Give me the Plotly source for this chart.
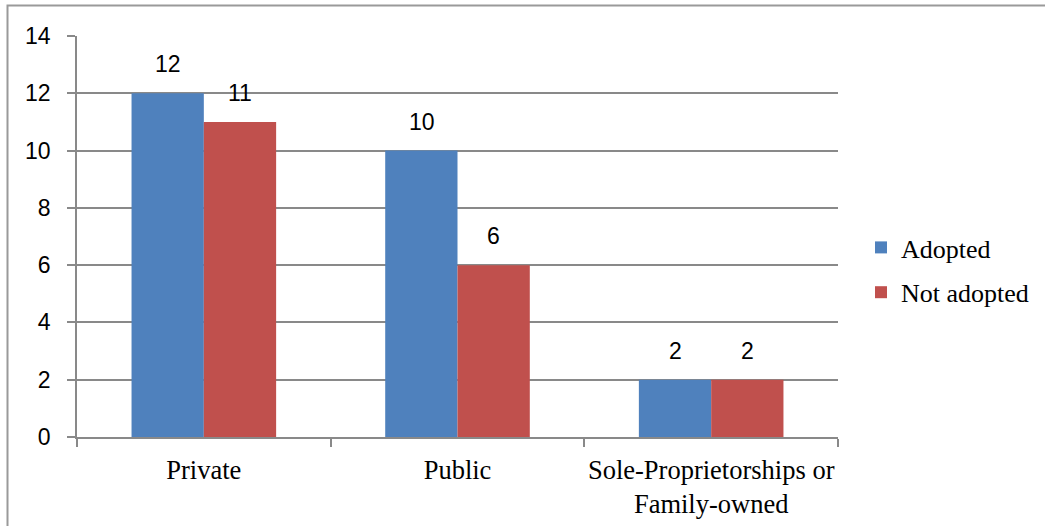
import plotly.graph_objects as go

categories = ["Private", "Public", "Sole-Proprietorships or<br>Family-owned"]
adopted = [12, 10, 2]
not_adopted = [11, 6, 2]
y_ticks = [0, 2, 4, 6, 8, 10, 12, 14]

BLUE = "#4F81BD"
RED = "#C0504D"
GRID = "#898989"
SANS = "Liberation Sans"
SERIF = "Liberation Serif"

fig = go.Figure()
fig.add_trace(go.Bar(x=categories, y=adopted, name="Adopted", marker_color=BLUE,
                     marker_line_width=0, legendgroup="a"))
fig.add_trace(go.Bar(x=categories, y=not_adopted, name="Not adopted", marker_color=RED,
                     marker_line_width=0, legendgroup="b"))

annotations = []
for series, shift in ((adopted, -36), (not_adopted, 36)):
    for c, v in zip(categories, series):
        annotations.append(dict(x=c, y=v, xref="x", yref="y", text=str(v), showarrow=False,
                                xshift=shift, yanchor="bottom", yshift=14,
                                font=dict(family=SANS, size=23, color="black")))

# body margin is removed in the page, so figure coords == reference coords
W, H = 1045, 526
L, T = 77, 36
R = W - 838
B = H - 437
pw, ph = W - L - R, H - T - B

def px(x):
    return (x - L) / pw

def py(y):
    return (H - B - y) / ph

fig.update_layout(
    width=W, height=H,
    margin=dict(l=L, r=R, t=T, b=B, autoexpand=False),
    paper_bgcolor="white", plot_bgcolor="white",
    barmode="group", bargap=0.43, bargroupgap=0,
    showlegend=True,
    legend=dict(x=px(861), xanchor="left", y=py(270), yanchor="middle",
                font=dict(family=SERIF, size=26, color="black"),
                tracegroupgap=8, bgcolor="rgba(0,0,0,0)"),
    annotations=annotations,
    shapes=[dict(type="rect", xref="paper", yref="paper",
                 x0=px(7.5), x1=px(1070), y0=py(5.5), y1=py(560),
                 line=dict(color="#9a9a9a", width=2), layer="below")],
    xaxis=dict(showgrid=False, showline=True, linecolor=GRID, linewidth=1.5,
               ticks="outside", tickson="boundaries", ticklen=8, tickcolor=GRID, tickwidth=1.5,
               ticklabelstandoff=8, tickangle=0, automargin=False,
               tickfont=dict(family=SERIF, size=26.5, color="black"), fixedrange=True),
    yaxis=dict(range=[0, 14], tickvals=y_ticks, showgrid=True, gridcolor=GRID, gridwidth=1.5,
               showline=True, linecolor=GRID, linewidth=1.5, zeroline=False,
               ticks="outside", ticklen=8, tickcolor=GRID, tickwidth=1.5,
               ticklabelstandoff=12, automargin=False,
               tickfont=dict(family=SANS, size=23, color="black"), fixedrange=True),
)

fig.write_html("out.html", config={"displayModeBar": False},
               post_script="document.body.style.margin='0px';document.body.style.overflow='hidden';")
